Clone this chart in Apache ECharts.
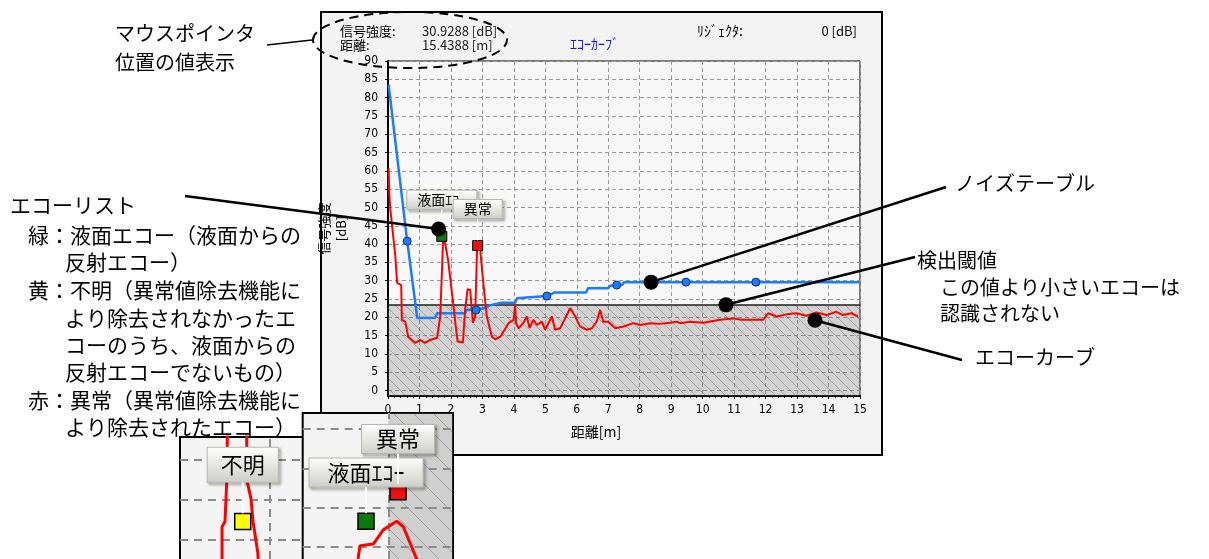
<!DOCTYPE html>
<html>
<head>
<meta charset="UTF-8">
<title>エコーカーブ</title>
<script src="https://cdn.jsdelivr.net/npm/echarts@6/dist/echarts.min.js"></script>
<style>
  html, body { margin: 0; padding: 0; background: #fff; }
  #chart { width: 1209px; height: 559px; }
</style>
</head>
<body>
<div id="chart"></div>
<script>
// values
var dbTicks = [0, 5, 10, 15, 20, 25, 30, 35, 40, 45, 50, 55, 60, 65, 70, 75, 80, 85, 90];

// echo curve (red)
var echoDist = [0.02, 0.04, 0.07, 0.23, 0.29, 0.42, 0.44, 0.55, 0.64, 0.87, 1.03, 1.18, 1.34, 1.56, 1.66, 1.76, 1.91, 2.06, 2.14, 2.21,
  2.38, 2.45, 2.53, 2.61, 2.70, 2.77, 2.83, 2.93, 3.03, 3.14, 3.30, 3.41, 3.57, 3.83, 3.99, 4.04, 4.07, 4.15, 4.30, 4.41,
  4.50, 4.62, 4.73, 4.89, 4.99, 5.21, 5.31, 5.47, 5.63, 5.79, 5.95, 6.10, 6.32, 6.48, 6.63, 6.74, 6.84, 7.00, 7.22, 7.48,
  7.80, 8.01, 8.33, 8.64, 8.96, 9.17, 9.28, 9.60, 10.02, 10.55, 10.97, 11.24, 11.92, 12.08, 12.35, 12.67, 12.98, 13.30, 13.62, 13.94,
  14.25, 14.46, 14.73, 14.94];
var echoDb = [60.7, 54.2, 49.8, 37.0, 29.4, 28.8, 19.3, 18.8, 14.7, 13.0, 13.8, 13.0, 13.8, 14.4, 20.2, 43.0, 35.6, 24.7, 18.5, 13.4,
  13.1, 22.0, 27.7, 27.5, 18.5, 20.2, 38.4, 38.4, 29.3, 20.2, 14.7, 14.0, 14.7, 18.4, 19.3, 23.4, 18.4, 17.0, 18.4, 20.2,
  17.1, 19.3, 17.9, 18.8, 16.6, 20.2, 16.6, 17.0, 19.7, 22.5, 20.2, 17.5, 16.6, 17.0, 18.8, 22.0, 18.8, 18.8, 17.0, 17.5,
  18.4, 17.9, 18.4, 18.2, 18.5, 18.8, 18.4, 18.8, 18.5, 19.3, 19.7, 19.3, 19.3, 21.1, 20.2, 20.8, 21.1, 20.4, 21.3, 20.6,
  21.5, 20.6, 21.1, 20.2];

// noise table (blue)
var noiseDist = [0.02, 0.61, 0.93, 1.50, 1.56, 2.45, 2.49, 3.03, 3.25, 3.60, 4.04, 4.10, 5.05, 5.30, 6.30, 6.35, 7.00, 7.05, 7.45, 7.50, 15.0];
var noiseDb = [83.5, 40.8, 19.8, 19.9, 21.1, 21.1, 22.0, 22.4, 23.3, 24.0, 24.0, 25.2, 25.8, 26.8, 26.8, 27.9, 27.9, 28.6, 28.9, 29.6, 29.6];
var noisePointDist = [0.61, 2.80, 5.05, 7.27, 9.47, 11.69];
var noisePointDb = [40.8, 22.0, 25.8, 28.8, 29.6, 29.6];

// detection threshold
var threshold = 23.5;

// echo list markers
var echoListNames = ['液面ｴｺｰ', '異常'];
var echoListDist = [1.71, 2.85];
var echoListDb = [42.1, 39.6];
var echoListColor = ['#0a7a0a', '#f01010'];

// callout dots
var calloutDist = [1.61, 8.36, 10.74, 13.57];
var calloutDb = [44.1, 29.6, 23.4, 19.2];

// zoomed inset A (不明)
var insetAGridDist = [4];
var insetAGridDb = [20, 25, 30];
var insetAEchoDist = [3.354, 3.354, 3.394, 3.417, 3.43, 3.68, 3.693, 3.743, 3.77, 3.833, 3.86];
var insetAEchoDb = [15, 21.6, 22.3, 27.2, 36, 36, 27.2, 25.1, 22.3, 18.5, 15];
var insetAName = ['不明'];
var insetADist = [3.632];
var insetADb = [22.3];

// zoomed inset B (液面エコー / 異常)
var insetBGridDist = [3];
var insetBGridDb = [30, 35, 40, 45];
var insetBEchoDist = [2.55, 2.576, 2.604, 2.79, 2.93, 3.118, 3.211, 3.399, 3.45];
var insetBEchoDb = [26, 28.5, 30.2, 30.4, 32.2, 33.3, 32.6, 28.5, 26];
var insetBNames = ['液面ｴｺｰ', '異常'];
var insetBDist = [2.688, 3.137];
var insetBDb = [33.3, 37.05];

function pairs(xs, ys) {
    return xs.map(function (x, i) { return [x, ys[i]]; });
}

function makeHatch(size, fill, stroke, w) {
    var c = document.createElement('canvas');
    c.width = size; c.height = size;
    var g = c.getContext('2d');
    g.fillStyle = fill;
    g.fillRect(0, 0, size, size);
    g.strokeStyle = stroke;
    g.lineWidth = w;
    g.beginPath();
    g.moveTo(-1, -1); g.lineTo(size + 1, size + 1);
    g.moveTo(-2, size - 2); g.lineTo(2, size + 2);
    g.moveTo(size - 2, -2); g.lineTo(size + 2, 2);
    g.stroke();
    return c;
}

var hatchMain = makeHatch(10, 'rgba(110,110,110,0.28)', 'rgba(70,70,70,0.33)', 1);
var hatchZoom = makeHatch(20, 'rgba(110,110,110,0.28)', 'rgba(70,70,70,0.35)', 1);

var numFont = "'Liberation Sans Narrow', 'DejaVu Sans Condensed', sans-serif";
var jpFont = "'Noto Sans CJK JP', sans-serif";

function bevelLabel(size, pad, dist) {
    return {
        show: true, position: 'top', distance: dist, formatter: '{b}',
        color: '#000', fontFamily: jpFont, fontSize: size, lineHeight: size,
        padding: pad,
        backgroundColor: new echarts.graphic.LinearGradient(0, 0, 0, 1, [
            { offset: 0, color: '#ffffff' }, { offset: 1, color: '#cdcdc8' }]),
        borderColor: '#b8b8b0', borderWidth: 1,
        shadowColor: 'rgba(0,0,0,0.45)', shadowBlur: 3, shadowOffsetX: 2, shadowOffsetY: 2
    };
}

function gridLines(xs, ys, color, width, dash) {
    var d = [];
    xs.forEach(function (v) { d.push({ xAxis: v }); });
    ys.forEach(function (v) { d.push({ yAxis: v }); });
    return {
        silent: true, symbol: 'none', z: 5.5, label: { show: false },
        lineStyle: { color: color, width: width, type: dash },
        data: d
    };
}

var chart = echarts.init(document.getElementById('chart'));

var option = {
    animation: false,
    backgroundColor: '#fff',
    grid: [
        { left: 388, top: 61, width: 472, height: 335, show: true, backgroundColor: '#f8f8f8', borderColor: '#000', borderWidth: 1 },
        { left: 180, top: 437, width: 123, height: 130, show: false },
        { left: 302.7, top: 413, width: 150.3, height: 154, show: false }
    ],
    xAxis: [
        {
            gridIndex: 0, type: 'value', min: 0, max: 15, interval: 1,
            name: '距離[m]', nameLocation: 'middle', nameGap: 29,
            nameTextStyle: { color: '#000', fontFamily: jpFont, fontSize: 14, padding: [0, 56, 0, 0] },
            axisLine: { onZero: false, lineStyle: { color: '#000', width: 2 } },
            axisTick: { length: 3, lineStyle: { color: '#000' } },
            minorTick: { show: true, splitNumber: 5, length: 2, lineStyle: { color: '#000' } },
            axisLabel: { color: '#000', fontFamily: numFont, fontSize: 12, margin: 8 },
            splitLine: { show: true, lineStyle: { color: '#9a9a9a', type: [4, 3], width: 1 } }
        },
        { gridIndex: 1, type: 'value', min: 2.79, max: 4.441, show: false, splitLine: { show: false } },
        { gridIndex: 2, type: 'value', min: 1.8, max: 3.908, show: false, splitLine: { show: false } }
    ],
    yAxis: [
        {
            gridIndex: 0, type: 'value', min: -1.5, max: 90,
            name: '信号強度\n[dB]', nameLocation: 'middle', nameRotate: 90, nameGap: 38,
            nameTextStyle: { color: '#000', fontFamily: jpFont, fontSize: 13, lineHeight: 17 },
            axisLine: { show: true, onZero: false, lineStyle: { color: '#000', width: 2 } },
            axisTick: { show: true, length: 3, customValues: dbTicks, lineStyle: { color: '#000' } },
            axisLabel: { customValues: dbTicks, color: '#000', fontFamily: numFont, fontSize: 12, margin: 10 },
            splitLine: { show: true, lineStyle: { color: '#9a9a9a', type: [4, 3], width: 1 } }
        },
        { gridIndex: 1, type: 'value', min: 17.63, max: 32.8, show: false, splitLine: { show: false } },
        { gridIndex: 2, type: 'value', min: 28.5, max: 47.05, show: false, splitLine: { show: false } }
    ],
    series: [
        {
            name: '検出閾値', type: 'line', xAxisIndex: 0, yAxisIndex: 0, data: [], silent: true,
            markArea: {
                silent: true, z: 1,
                itemStyle: { color: { image: hatchMain, repeat: 'repeat' } },
                data: [[{ coord: [0, -1.5] }, { coord: [15, threshold] }]]
            },
            markLine: {
                silent: true, symbol: 'none', z: 1.5, label: { show: false },
                lineStyle: { color: '#222', width: 1.5, type: 'solid' },
                data: [{ yAxis: threshold }]
            }
        },
        {
            name: 'ノイズテーブル', type: 'line', xAxisIndex: 0, yAxisIndex: 0, z: 3,
            data: pairs(noiseDist, noiseDb), showSymbol: false,
            lineStyle: { color: '#1b7cff', width: 2.5 }
        },
        {
            name: 'ノイズ点', type: 'scatter', xAxisIndex: 0, yAxisIndex: 0, z: 3,
            data: pairs(noisePointDist, noisePointDb), symbol: 'circle', symbolSize: 8,
            itemStyle: { color: '#1b7cff', borderColor: '#0b2f66', borderWidth: 1, opacity: 1 }
        },
        {
            name: 'エコーカーブ', type: 'line', xAxisIndex: 0, yAxisIndex: 0, z: 3,
            data: pairs(echoDist, echoDb), showSymbol: false,
            lineStyle: { color: '#ff0000', width: 2 }
        },
        {
            name: 'エコーリスト', type: 'scatter', xAxisIndex: 0, yAxisIndex: 0, z: 4,
            symbol: 'rect', symbolSize: 10,
            data: echoListDist.map(function (d, i) {
                return { name: echoListNames[i], value: [d, echoListDb[i]], itemStyle: { color: echoListColor[i] } };
            }),
            itemStyle: { borderColor: '#000', borderWidth: 1, opacity: 1 },
            label: bevelLabel(14, [2, 10], 22)
        },
        {
            name: '説明点', type: 'scatter', xAxisIndex: 0, yAxisIndex: 0, z: 10,
            data: pairs(calloutDist, calloutDb), symbol: 'circle', symbolSize: 15,
            itemStyle: { color: '#000', opacity: 1 }
        },
        // inset A
        {
            type: 'line', xAxisIndex: 1, yAxisIndex: 1, z: 6, data: [], silent: true,
            markLine: gridLines(insetAGridDist, insetAGridDb, '#8c8c8c', 2, [8, 6])
        },
        {
            type: 'line', xAxisIndex: 1, yAxisIndex: 1, z: 6, showSymbol: false,
            data: pairs(insetAEchoDist, insetAEchoDb), lineStyle: { color: '#ff0000', width: 3 }
        },
        {
            type: 'scatter', xAxisIndex: 1, yAxisIndex: 1, z: 7, symbol: 'rect', symbolSize: 16,
            data: insetADist.map(function (d, i) { return { name: insetAName[i], value: [d, insetADb[i]] }; }),
            itemStyle: { color: '#ffff00', borderColor: '#000', borderWidth: 1.5, opacity: 1 },
            label: bevelLabel(22, [6, 13], 31)
        },
        // inset B
        {
            type: 'line', xAxisIndex: 2, yAxisIndex: 2, z: 6, data: [], silent: true,
            markArea: {
                silent: true, z: 5,
                itemStyle: { color: { image: hatchZoom, repeat: 'repeat' } },
                data: [[{ coord: [insetBGridDist[0], 28.5] }, { coord: [3.908, 47.05] }]]
            },
            markLine: gridLines(insetBGridDist, insetBGridDb, '#8c8c8c', 2, [8, 6])
        },
        {
            type: 'line', xAxisIndex: 2, yAxisIndex: 2, z: 6, showSymbol: false,
            data: pairs(insetBEchoDist, insetBEchoDb), lineStyle: { color: '#ff0000', width: 3 }
        },
        {
            type: 'scatter', xAxisIndex: 2, yAxisIndex: 2, z: 7, symbol: 'rect', symbolSize: 16,
            data: insetBDist.map(function (d, i) {
                return {
                    name: insetBNames[i], value: [d, insetBDb[i]],
                    itemStyle: { color: echoListColor[i] },
                    label: i === 0 ? { distance: 26, padding: [3, 18] } : { distance: 30, padding: [3, 14] }
                };
            }),
            itemStyle: { borderColor: '#000', borderWidth: 1.5, opacity: 1 },
            label: bevelLabel(22, [3, 14], 30)
        }
    ]
};

chart.setOption(option);

// annotations (text, frames, leader lines) placed after the chart is laid out
function px(grid, x, y) {
    return chart.convertToPixel({ gridIndex: grid }, [x, y]);
}

function txt(s, x, y, size, extra) {
    var st = { text: s, x: x, y: y, fill: '#000', font: size + 'px ' + jpFont, verticalAlign: 'middle', align: 'left' };
    if (extra) { for (var k in extra) st[k] = extra[k]; }
    return { type: 'text', z: 20, silent: true, style: st };
}

function seg(x1, y1, x2, y2, z, color, w) {
    return { type: 'line', z: z, silent: true, shape: { x1: x1, y1: y1, x2: x2, y2: y2 }, style: { stroke: color, lineWidth: w } };
}

var g = [];
// instrument panel
g.push({ type: 'rect', z: -10, silent: true, shape: { x: 321, y: 12, width: 561, height: 443 }, style: { fill: '#f3f3f3', stroke: '#000', lineWidth: 2 } });
// inset frames
g.push({ type: 'rect', z: 3, silent: true, shape: { x: 180, y: 437, width: 123, height: 140 }, style: { fill: '#f4f4f4', stroke: '#000', lineWidth: 2 } });
g.push({ type: 'rect', z: 3, silent: true, shape: { x: 302.7, y: 413, width: 150.3, height: 160 }, style: { fill: '#f4f4f4', stroke: '#000', lineWidth: 2 } });

// panel header
g.push(txt('信号強度:', 340, 31, 13));
g.push(txt('30.9288 [dB]', 422, 31, 13, { fill: '#222' }));
g.push(txt('距離:', 340, 45, 13));
g.push(txt('15.4388 [m]', 422, 45, 13, { fill: '#222' }));
g.push(txt('ｴｺｰｶｰﾌﾞ', 570, 44, 14, { fill: '#1010ff' }));
g.push(txt('ﾘｼﾞｪｸﾀ:', 697, 31, 14));
g.push(txt('0 [dB]', 857, 31, 13, { align: 'right' }));
g.push({ type: 'ellipse', z: 20, silent: true, shape: { cx: 410, cy: 40, rx: 97, ry: 28 }, style: { fill: null, stroke: '#000', lineWidth: 2, lineDash: [9, 6] } });

// left notes
g.push(txt('マウスポインタ', 115, 33, 20));
g.push(txt('位置の値表示', 115, 62, 20));
g.push(seg(267, 45, 312, 40, 20, '#000', 1.5));
var notes = [
    ['エコーリスト', 10, 205], ['緑：液面エコー（液面からの', 28, 235], ['反射エコー）', 65, 262],
    ['黄：不明（異常値除去機能に', 28, 290], ['より除去されなかったエ', 65, 318], ['コーのうち、液面からの', 65, 345],
    ['反射エコーでないもの）', 65, 372], ['赤：異常（異常値除去機能に', 28, 400], ['より除去されたエコー）', 65, 427]
];
notes.forEach(function (n) { g.push(txt(n[0], n[1], n[2], 21)); });

// right notes
g.push(txt('ノイズテーブル', 955, 183, 20));
g.push(txt('検出閾値', 917, 260, 20));
g.push(txt('この値より小さいエコーは', 940, 287, 20));
g.push(txt('認識されない', 940, 313, 20));
g.push(txt('エコーカーブ', 975, 357, 20));

// leader lines to callout dots
var anchors = [[185, 196], [946, 187], [915, 257], [962, 360]];
calloutDist.forEach(function (d, i) {
    var p = px(0, d, calloutDb[i]);
    g.push(seg(anchors[i][0], anchors[i][1], p[0], p[1], 20, '#000', 2.5));
});

// white pins from markers up to their labels
function pin(grid, d, db, half, dist, w) {
    var p = px(grid, d, db);
    g.push(seg(p[0], p[1] - half, p[0], p[1] - half - dist, 8, '#ffffff', w));
}
echoListDist.forEach(function (d, i) { pin(0, d, echoListDb[i], 5, 22, 1); });
pin(1, insetADist[0], insetADb[0], 8, 31, 2);
pin(2, insetBDist[0], insetBDb[0], 8, 26, 2);
pin(2, insetBDist[1], insetBDb[1], 8, 30, 2);

chart.setOption({ graphic: g });
</script>
</body>
</html>
